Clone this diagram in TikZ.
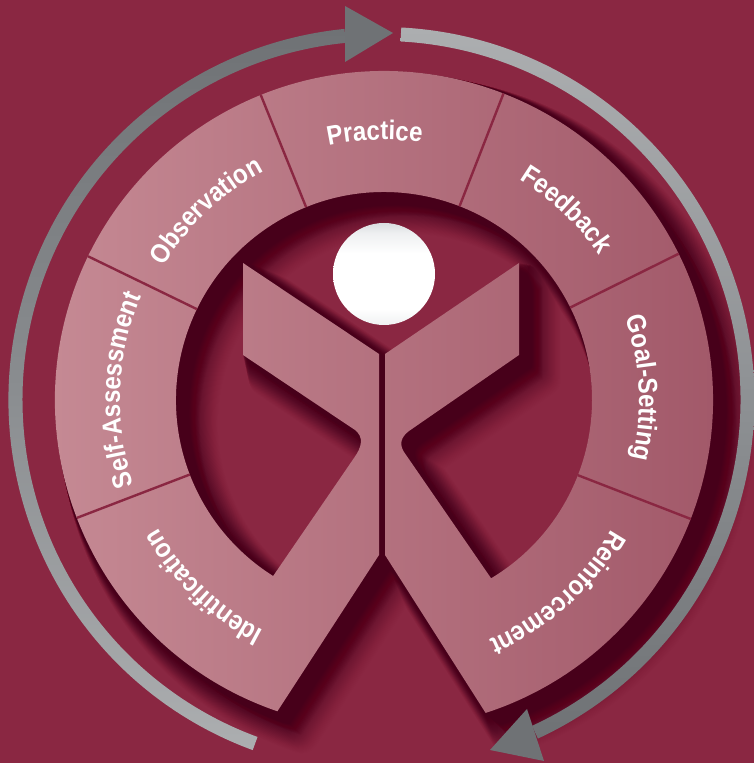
\documentclass[tikz,border=0pt]{standalone}
\usepackage{fontspec}
\usetikzlibrary{decorations.text,calc}
\newfontfamily\lblfont[FakeStretch=0.89]{Liberation Sans}
\definecolor{bgred}{HTML}{8A2742}
\definecolor{shadowred}{HTML}{47001A}
\definecolor{ringL}{HTML}{C78C96}
\definecolor{ringM}{HTML}{B5707C}
\definecolor{ringR}{HTML}{A05667}
\definecolor{headgray}{HTML}{6F7275}
\definecolor{arcA}{HTML}{ACAEB0}
\definecolor{arcB}{HTML}{8F9295}
\definecolor{arcC}{HTML}{8A8D90}
\definecolor{headtop}{HTML}{DADDE0}
\definecolor{headbot}{HTML}{F0F1F2}
\pgfdeclareverticalshading{headshade}{100bp}{color(0bp)=(headbot); color(25bp)=(headbot); color(33bp)=(white); color(60bp)=(white); color(70bp)=(headtop!45!white); color(75bp)=(headtop); color(100bp)=(headtop)}
\def\figpath{(277.4,51.7) arc[start angle=251.1,end angle=-72,radius=329]
  -- (385,208) -- (385,409) -- (519,500) -- (519,408) -- (409,332)
  .. controls (401,326) and (399,319) .. (404,311)
  -- (491.1,184.7) arc[start angle=-59,end angle=237.8,radius=208]
  -- (354,305) .. controls (362,316) and (364,326) .. (355,333)
  -- (243,408) -- (243,500) -- (379,409) -- (379,208) -- cycle}
\tikzset{
  ringshape/.style={left color=ringL,middle color=ringM,right color=ringR},
  divider/.style={draw=bgred,line width=2.4pt},
  blurlayer/.style={fill=shadowred,draw=shadowred,fill opacity=#1,draw opacity=#1,line join=round},
}
\newcommand{\ringlabel}[5]{% text, centre angle, half span, baseline radius, size
  \path[postaction={decorate,decoration={text along path,text align=center,text color=white,
    text={|\lblfont\bfseries\fontsize{#5}{#5}\selectfont|#1}}}]
    ($(384,363)+({#2+#3}:#4)$) arc[start angle={#2+#3},end angle={#2-#3},radius=#4];}
\begin{document}
\begin{tikzpicture}[x=1pt,y=1pt]
\useasboundingbox (0,0) rectangle (754,763);
\clip (0,0) rectangle (754,763);
\fill[bgred] (0,0) rectangle (754,763);
% soft shadow
\foreach \t in {24,23.5,...,0.4}{
  \pgfmathsetmacro{\rr}{1.5*\t}
  \pgfmathsetmacro{\al}{0.008+0.08*(1-\t/24)}
  \path[blurlayer=\al,line width=\rr pt,shift={(\t,-\t)}] \figpath;
}
% ring and figure
\shade[ringshape] \figpath;
% dividers
\foreach \a in {112,68.7,154.1,26.4,201,-21.2}{
  \draw[divider] ($(384,363)+(\a:208)$) -- ($(384,363)+(\a:329)$);
}
% head
\shade[shading=headshade] (384,489) circle[radius=51];
% arrows
\shade[top color=arcA,bottom color=headgray,middle color=arcB]
  (401.3,735.5) arc[start angle=86.95,end angle=-65.2,radius=373]
  -- ++(-65.2+180:14) arc[start angle=-65.2,end angle=86.95,radius=359] -- cycle;
\shade[bottom color=arcA,top color=headgray,middle color=arcC]
  (252.7,12.9) arc[start angle=249.8,end angle=95.7,radius=373]
  -- ++(95.7+180:14) arc[start angle=95.7,end angle=249.8,radius=359] -- cycle;
\fill[headgray] (345,757) -- (393,730) -- (345,701) -- cycle;
\fill[headgray] (527,54) -- (544,2) -- (490,13) -- cycle;
% labels
\ringlabel{Practice}{92}{60}{260}{27}
\ringlabel{Feedback}{46.2}{60}{259}{27}
\ringlabel{Goal-Setting}{2.7}{60}{255}{27}
\ringlabel{Reinforcement}{-48}{60}{262}{27}
\ringlabel{Identification}{226}{60}{260}{27}
\ringlabel{Observation}{133.3}{60}{258}{27}
\ringlabel{Self-Assessment}{177.8}{60}{264}{27}
\end{tikzpicture}
\end{document}
